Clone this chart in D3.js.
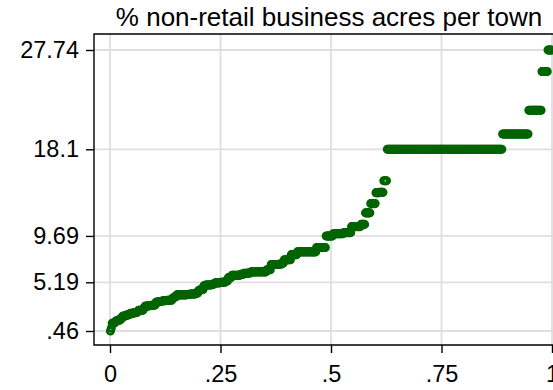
<!DOCTYPE html>
<html>
<head>
<meta charset="utf-8">
<script src="https://cdn.jsdelivr.net/npm/d3@7"></script>
<style>
  html, body { margin: 0; padding: 0; background: #fff; overflow: hidden; }
  svg text { font-family: "Liberation Sans", Arial, Helvetica, sans-serif; fill: #000; }
</style>
</head>
<body>
<svg id="chart" width="553" height="390"></svg>
<script>
// Distinct values of INDUS (% non-retail business acres per town) and how many towns share each
const indusValues = [
  0.46, 0.74, 1.21, 1.22, 1.25, 1.38, 1.47, 1.52, 1.69, 1.89, 1.91, 2.01, 2.02, 2.03, 2.06,
  2.18, 2.24, 2.25, 2.31, 2.46, 2.68, 2.89, 2.93, 2.95, 2.97, 3.24, 3.33, 3.37, 3.41, 3.44,
  3.64, 3.75, 3.78, 3.97, 4.00, 4.05, 4.15, 4.39, 4.49, 4.86, 4.93, 4.95, 5.04, 5.13, 5.19,
  5.32, 5.64, 5.86, 5.96, 6.06, 6.07, 6.09, 6.20, 6.41, 6.91, 6.96, 7.07, 7.38, 7.87, 8.14,
  8.56, 9.69, 9.90, 10.01, 10.59, 10.81, 11.93, 12.83, 13.89, 13.92, 15.04, 18.10, 19.58,
  21.89, 25.65, 27.74
];
const indusCounts = [
  1, 1, 1, 1, 2, 1, 2, 3, 2, 1, 3, 1, 1, 2, 1,
  4, 3, 1, 1, 6, 2, 5, 2, 3, 2, 3, 4, 2, 4, 6,
  2, 1, 2, 12, 3, 7, 3, 2, 4, 2, 6, 3, 2, 6, 6,
  3, 4, 10, 4, 2, 3, 3, 18, 5, 10, 3, 2, 8, 7, 22,
  11, 8, 12, 9, 11, 5, 6, 6, 4, 5, 4, 132, 30,
  15, 7, 5
];

const titleText = "% non-retail business acres per town";
const yTicks = [0.46, 5.19, 9.69, 18.1, 27.74];
const yTickLabels = [".46", "5.19", "9.69", "18.1", "27.74"];
const xTicks = [0, 0.25, 0.5, 0.75, 1];
const xTickLabels = ["0", ".25", ".5", ".75", "1"];

// Expand the frequency table into sorted observations
const obs = [];
indusValues.forEach((v, i) => { for (let k = 0; k < indusCounts[i]; k++) obs.push(v); });
const N = obs.length;
const points = obs.map((v, i) => ({ f: (i + 0.5) / N, v }));

const svg = d3.select("#chart");
const frame = { left: 94, top: 34, bottom: 345, right: 580 };

const x = d3.scaleLinear().domain([0, 1]).range([110, 552]);
const y = d3.scaleLinear().domain([0.46, 27.74]).range([331, 50]);

// Grid lines
const grid = svg.append("g").attr("stroke", "#dedede").attr("stroke-width", 1.8);
grid.selectAll("line.gx").data(xTicks).join("line")
  .attr("x1", d => x(d)).attr("x2", d => x(d))
  .attr("y1", frame.top).attr("y2", frame.bottom);
grid.selectAll("line.gy").data(yTicks).join("line")
  .attr("x1", frame.left).attr("x2", frame.right)
  .attr("y1", d => y(d)).attr("y2", d => y(d));

// Quantile markers
svg.append("g")
  .selectAll("circle").data(points).join("circle")
  .attr("cx", d => x(d.f))
  .attr("cy", d => y(d.v))
  .attr("r", 3.2)
  .attr("fill", "none")
  .attr("stroke", "#006400")
  .attr("stroke-width", 2.7);

// Frame lines
svg.append("path")
  .attr("d", `M${frame.right},${frame.top}H${frame.left}V${frame.bottom}H${frame.right}`)
  .attr("fill", "none").attr("stroke", "#000").attr("stroke-width", 1.4);

// Axes
const yAxis = d3.axisLeft(y).tickValues(yTicks).tickSize(8).tickPadding(7)
  .tickFormat((d, i) => yTickLabels[i]);
const gy = svg.append("g").attr("transform", `translate(${frame.left},0)`).call(yAxis);
gy.select(".domain").remove();
gy.selectAll(".tick line").attr("stroke", "#000").attr("stroke-width", 1.4);
gy.selectAll(".tick text").attr("font-size", 23.5).attr("font-family", null);

const xAxis = d3.axisBottom(x).tickValues(xTicks).tickSize(8).tickPadding(12)
  .tickFormat((d, i) => xTickLabels[i]);
const gx = svg.append("g").attr("transform", `translate(0,${frame.bottom})`).call(xAxis);
gx.select(".domain").remove();
gx.selectAll(".tick line").attr("stroke", "#000").attr("stroke-width", 1.4);
gx.selectAll(".tick text").attr("font-size", 23.5).attr("font-family", null);

// Title
svg.append("text")
  .attr("x", 329).attr("y", 26)
  .attr("text-anchor", "middle")
  .attr("font-size", 26)
  .text(titleText);
</script>
</body>
</html>
